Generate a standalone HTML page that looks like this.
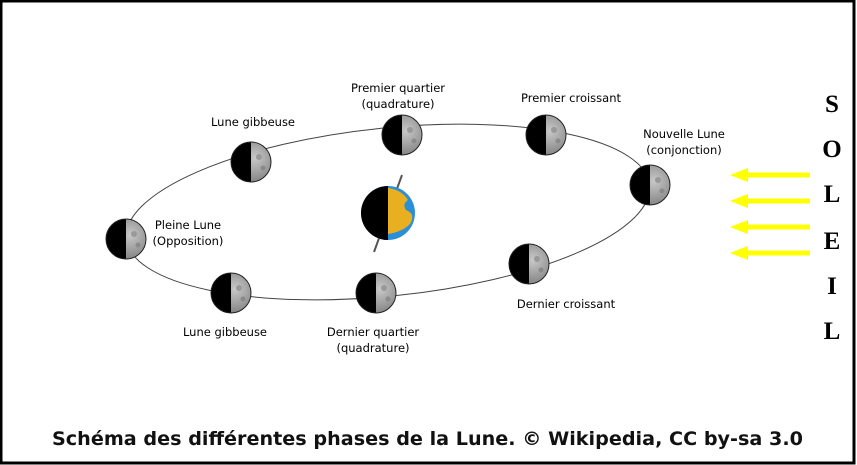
<!DOCTYPE html>
<html><head><meta charset="utf-8"><style>
html,body{margin:0;padding:0;background:#fff}
svg{display:block}
</style></head><body>
<svg width="857" height="465" viewBox="0 0 857 465" xmlns="http://www.w3.org/2000/svg">
<defs>
<radialGradient id="mg" cx="0.6" cy="0.4" r="0.7"><stop offset="0" stop-color="#c8c8c8"/><stop offset="1" stop-color="#7a7a7a"/></radialGradient>
<g id="moon">
<circle r="20" fill="url(#mg)"/>
<path d="M0,-20 A20,20 0 0 0 0,20 Z" fill="#000"/>
<circle r="20" fill="none" stroke="#222" stroke-width="1"/>
<circle cx="8" cy="-5" r="3" fill="#999"/><circle cx="12" cy="6" r="2.5" fill="#8a8a8a"/>
</g>
</defs>
<rect x="1" y="1" width="853" height="462" fill="#fff" stroke="#000" stroke-width="3"/>
<ellipse cx="388" cy="212" rx="263" ry="84" fill="none" stroke="#444" stroke-width="1" transform="rotate(-5.9 388 212)"/>
<line x1="374" y1="252" x2="402" y2="175" stroke="#555" stroke-width="2"/>
<circle cx="388" cy="213" r="27" fill="#2a8fd8"/>
<path d="M388,188 q14,2 20,12 q-6,4 -2,10 q10,4 4,14 q-8,8 -22,10 z" fill="#e8b020"/>
<path d="M388,186 A27,27 0 0 0 388,240 Z" fill="#000"/>
<use href="#moon" x="126" y="239"/>
<use href="#moon" x="251" y="162"/>
<use href="#moon" x="402" y="135"/>
<use href="#moon" x="546" y="135"/>
<use href="#moon" x="650" y="185"/>
<use href="#moon" x="529" y="264"/>
<use href="#moon" x="376" y="293"/>
<use href="#moon" x="231" y="293"/>
<g font-family="'DejaVu Sans','Liberation Sans',sans-serif" font-size="11.5" fill="#000" text-anchor="middle">
<text x="253" y="126">Lune gibbeuse</text>
<text x="398" y="92">Premier quartier</text>
<text x="398" y="108">(quadrature)</text>
<text x="571" y="102">Premier croissant</text>
<text x="684" y="138">Nouvelle Lune</text>
<text x="684" y="154">(conjonction)</text>
<text x="188" y="229">Pleine Lune</text>
<text x="188" y="245">(Opposition)</text>
<text x="225" y="336">Lune gibbeuse</text>
<text x="373" y="336">Dernier quartier</text>
<text x="373" y="352">(quadrature)</text>
<text x="566" y="308">Dernier croissant</text>
</g>
<g fill="#ffff00" stroke="#ffff00">
<g stroke-width="5"><line x1="745" y1="175" x2="810" y2="175"/><line x1="745" y1="201" x2="810" y2="201"/><line x1="745" y1="227" x2="810" y2="227"/><line x1="745" y1="253" x2="810" y2="253"/></g>
<g stroke="none"><polygon points="730,175 748,168 748,182"/><polygon points="730,201 748,194 748,208"/><polygon points="730,227 748,220 748,234"/><polygon points="730,253 748,246 748,260"/></g>
</g>
<g font-family="'Liberation Serif',serif" font-weight="bold" font-size="25" text-anchor="middle" fill="#000">
<text x="832" y="112">S</text>
<text x="832" y="157">O</text>
<text x="832" y="202">L</text>
<text x="832" y="249">E</text>
<text x="832" y="294">I</text>
<text x="832" y="339">L</text>
</g>
<text x="52" y="445" textLength="751" lengthAdjust="spacingAndGlyphs" font-family="'DejaVu Sans','Liberation Sans',sans-serif" font-weight="bold" font-size="19" fill="#111">Schéma des différentes phases de la Lune. © Wikipedia, CC by-sa 3.0</text>
</svg>
</body></html>
